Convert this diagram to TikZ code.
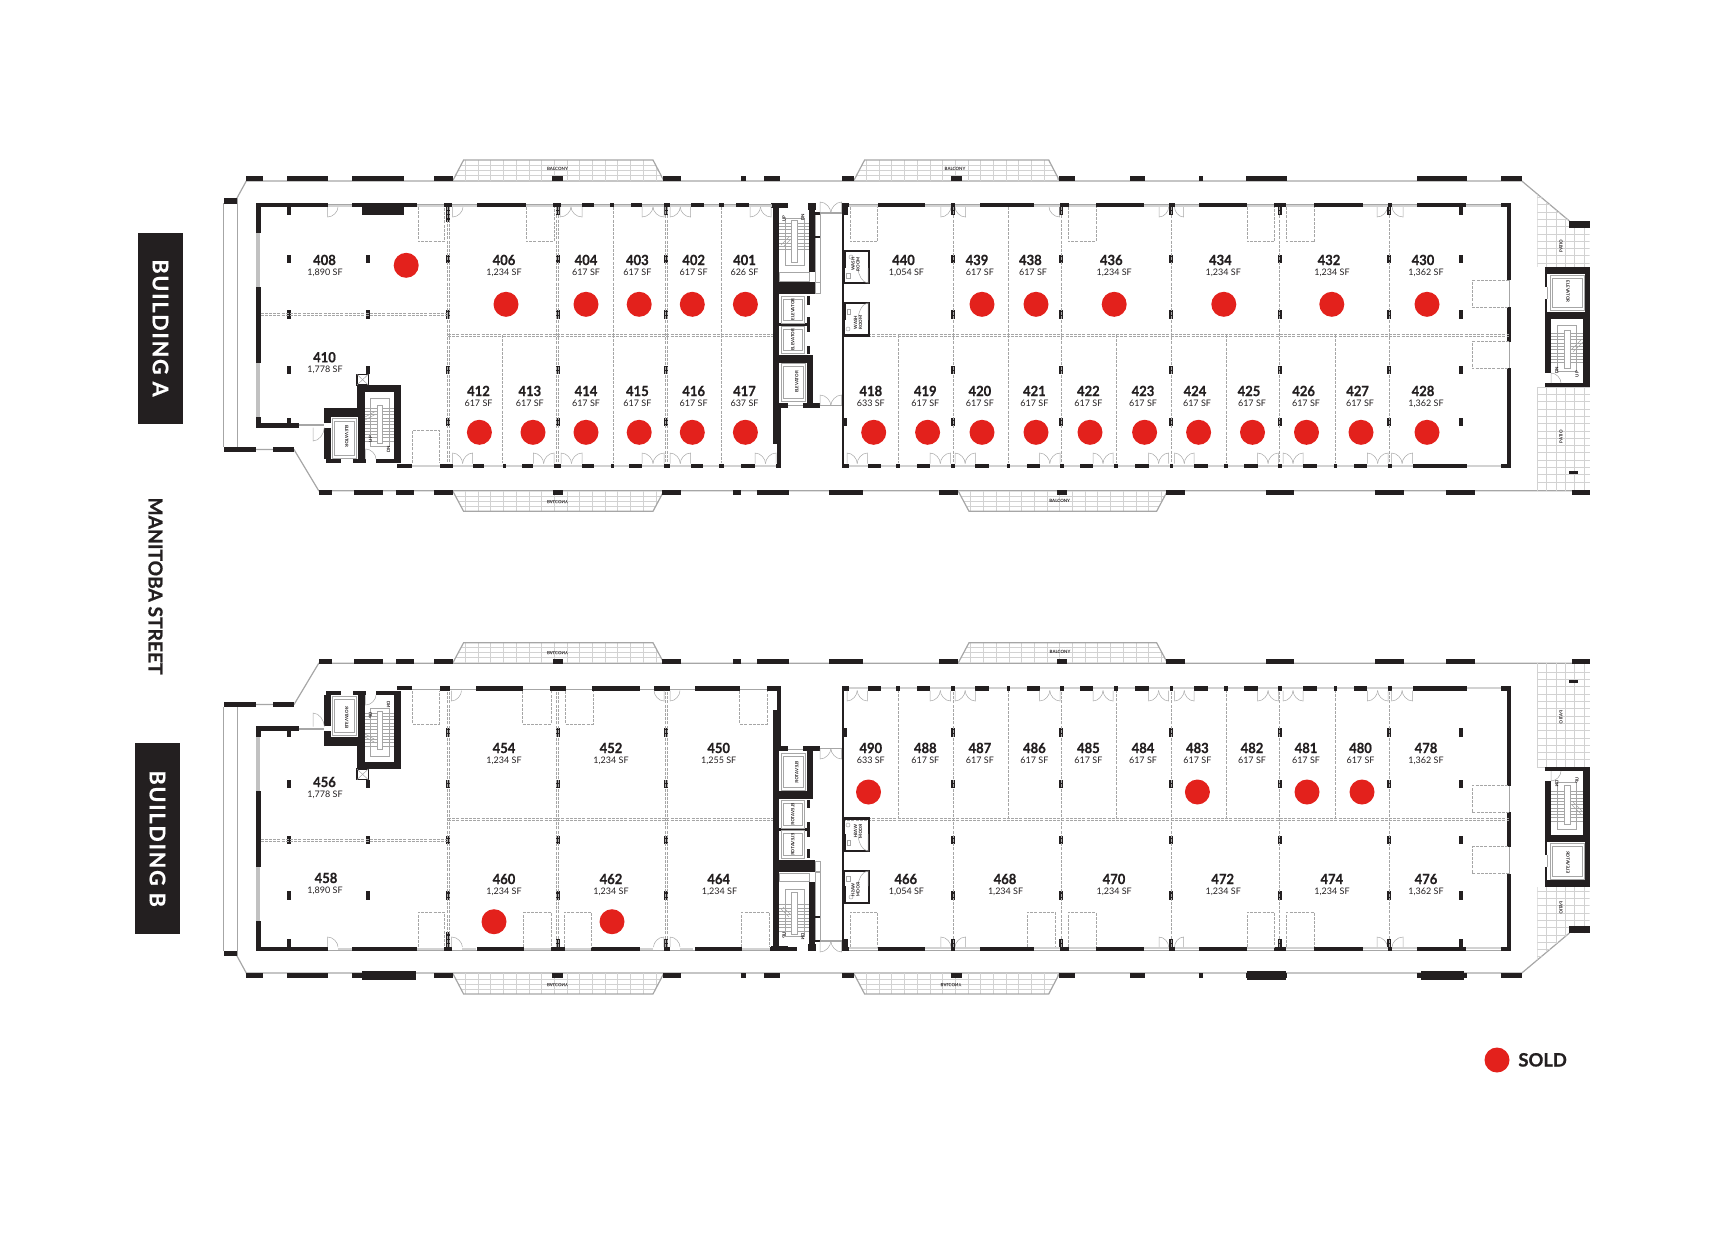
\documentclass[tikz,border=0pt]{standalone}
\usepackage{fontspec}
\setmainfont{Lato}
\newfontfamily\spacedfont[LetterSpace=8, BoldFeatures={FakeBold=0.5}]{Lato}
\newfontfamily\numfont[BoldFeatures={FakeBold=0.6, FakeStretch=0.93}]{Lato}
\newfontfamily\headfont[BoldFeatures={FakeBold=0.8}]{Lato}

\definecolor{wallblack}{HTML}{231F20}
\definecolor{soldred}{HTML}{E3211C}
\definecolor{linegray}{HTML}{A6A6A6}
\definecolor{lightgray}{HTML}{D2D2D2}

\tikzset{
    wallfill/.style={fill=wallblack, draw=none},
    outerline/.style={draw=linegray, line width=0.6pt},
    thinline/.style={draw=linegray, line width=0.25pt},
    glassline/.style={draw=lightgray, line width=1pt},
    sideglass/.style={draw=linegray!70, line width=2.4pt},
    gridline/.style={draw=lightgray, line width=0.25pt},
    partline/.style={draw=linegray, line width=0.3pt, dash pattern=on 1.5pt off 0.6pt},
    doorline/.style={draw=linegray, line width=0.25pt},
    soldmark/.style={circle, fill=soldred, minimum size=12.5pt, inner sep=0pt},
    numlabel/.style={inner sep=0pt, text height=5pt, text depth=0pt, text=wallblack, font=\numfont\fontsize{7}{8}\selectfont\bfseries},
    arealabel/.style={inner sep=0pt, text height=3.3pt, text depth=0pt, text=wallblack, font=\fontsize{4.5}{5}\selectfont},
    tinylabel/.style={inner sep=0pt, align=center, text=wallblack, font=\fontsize{2.2}{2.5}\selectfont\bfseries},
}

\newcommand{\balcony}[4]{
    \begin{scope}
        \clip (#1,#3) -- (#1+11,#4) -- (#2-11,#4) -- (#2,#3) -- cycle;
        \foreach \gx in {0,12.7,...,220}
            {\draw[gridline] (#1+\gx,#3) -- (#1+\gx,#4);}
        \foreach \gf in {0.28,0.52,0.76}
            {\draw[gridline] (#1,{#3+\gf*(#4-#3)}) -- (#2,{#3+\gf*(#4-#3)});}
    \end{scope}
    \draw[outerline] (#1,#3) -- (#1+11,#4) -- (#2-11,#4) -- (#2,#3);
}
\newcommand{\sgldoor}[4]{
    \draw[doorline] (#1,#3) -- (#1,#4) .. controls ({#1+0.55*(#2-#1)},#4) and (#2,{#3+0.45*(#4-#3)}) .. (#2,#3);
}
\newcommand{\dbldoor}[4]{
    \pgfmathsetmacro\dm{(#1+#2)/2}
    \sgldoor{#1}{\dm}{#3}{#4}
    \sgldoor{#2}{\dm}{#3}{#4}
}
\newcommand{\stairs}[6]{
    \pgfmathsetmacro\sm{(#1+#2)/2}
    \pgfmathsetmacro\sb{#5+3.3}
    \draw[thinline] (\sm-9.5,#3) rectangle (\sm+9.5,#4);
    \draw[thinline, fill=white] (\sm-2.7,#5-3) rectangle (\sm+2.7,#4-3);
    \foreach \sy in {#5,\sb,...,#6}
        {\draw[thinline] (#1,\sy) -- (\sm-2.7,\sy);
         \draw[thinline] (\sm+2.7,\sy) -- (#2,\sy);}
}
\newcommand{\carbox}[4]{
    \draw[thinline] (#1,#2) rectangle (#3,#4);
    \draw[thinline] (#1+2,#2+3) rectangle (#3-2,#4-3);
}

% everything both buildings have in common, in the coordinates of building A
\newcommand{\wingcommon}{
    % outer line
    \draw[outerline] (237,198) -- (246.3,181) -- (1521.8,181) -- (1569.4,221);
    \draw[outerline] (255.7,449.5) -- (294,449.5) -- (318.7,490.7) -- (1589.5,490.7);
    \draw[thinline] (223.6,203) -- (223.6,447);
    \draw[thinline] (237,198) -- (237,447);
    \fill[wallfill] (223.6,198) rectangle (237,203.5);
    \fill[wallfill] (223.6,447) rectangle (255.7,452);
    \fill[wallfill] (272.7,447) rectangle (294,452);

    \balcony{452.6}{664}{181}{160}
    \balcony{853.6}{1059.7}{181}{160}
    \balcony{452.6}{664}{490.7}{511.3}
    \balcony{958}{1167.6}{490.7}{511.3}

    % patios
    \begin{scope}
        \clip (1537.3,194) -- (1569.4,221) -- (1589.5,221) -- (1589.5,267) -- (1537.3,267) -- cycle;
        \foreach \gx in {0,9.3,...,55}
            {\draw[gridline] (1537.3+\gx,190) -- (1537.3+\gx,267);}
        \foreach \gy in {0,7.3,...,80}
            {\draw[gridline] (1537.3,190+\gy) -- (1589.5,190+\gy);}
    \end{scope}
    \foreach \gx in {0,9.3,...,55}
        {\draw[gridline] (1537.3+\gx,387) -- (1537.3+\gx,490.7);}
    \foreach \gy in {0,7.3,...,100}
        {\draw[gridline] (1537.3,387+\gy) -- (1589.5,387+\gy);}

    \foreach \a/\b in {246.3/262.9, 287.4/327.6, 352/404, 433.8/452.6, 552/563, 663.3/680.7, 741.4/746.3, 764.2/780, 841.5/853.6, 951/961.5, 1059/1075, 1130/1144.6, 1198.6/1203, 1246/1287, 1417/1467, 1500.5/1521.8}
        {\fill[wallfill] (\a,176) rectangle (\b,181.3);}
    \foreach \a/\b in {318.7/332, 353.5/382.5, 396.3/414, 433.8/453, 553/563, 662.4/681, 733/740.5, 757/788.8, 829/862.8, 938.5/957.5, 1056.8/1067, 1166.4/1185.4, 1266.3/1294.4, 1374.8/1403.5, 1446/1475.3, 1571.7/1589.5}
        {\fill[wallfill] (\a,490) rectangle (\b,495.3);}
    \fill[wallfill] (1569.4,221) rectangle (1589.5,228);
    \fill[wallfill] (1569.4,471) rectangle (1577.5,474.3);

    % left and right walls
    \draw[sideglass] (258,233) -- (258,286.7);
    \draw[sideglass] (258,363) -- (258,416.7);
    \foreach \a/\b in {203/233, 286.7/363, 416.7/427}
        {\fill[wallfill] (255.7,\a) rectangle (260.6,\b);}
    \fill[wallfill] (255.7,423.3) rectangle (298.6,427.7);
    \draw[thinline] (1509,280) -- (1509,308);
    \draw[thinline] (1509,341) -- (1509,368);
    \foreach \a/\b in {203.3/280, 307.3/341.7, 368.3/468}
        {\fill[wallfill] (1506.7,\a) rectangle (1510.7,\b);}

    % walls along the long sides, right of the core
    \draw[thinline] (842,204) -- (1511,204);
    \draw[glassline] (842,206) -- (1511,206);
    \foreach \a/\b in {842/849, 877.7/925.3, 950.6/955, 979.9/1033.8, 1059.7/1068.8, 1095.8/1143.5, 1168.7/1174.5, 1199/1246.8, 1273.8/1286.4, 1314/1362.8, 1387.5/1392, 1417.3/1466, 1500.5/1511}
        {\fill[wallfill] (\a,203) rectangle (\b,207);}
    \draw[glassline] (842,466) -- (1511,466);
    \foreach \a/\b in {842/849, 868/880.5, 896/900, 916.7/930, 951/955, 975.3/988.5, 1006.8/1010, 1027/1039.6, 1060/1064, 1080.3/1093, 1114/1117.6, 1135/1148.6, 1170/1173.3, 1194/1207.8, 1223.8/1227.9, 1244/1257.7, 1278.4/1282.4, 1302.5/1316.8, 1333.5/1337, 1353.6/1366.8, 1388/1391.5, 1412.7/1467, 1500.5/1511}
        {\fill[wallfill] (\a,463.5) rectangle (\b,468);}
    \foreach \a/\b in {847/867.4, 930/950.6, 955/975.3, 1039.6/1060, 1093/1113, 1148.6/1168.7, 1174.5/1194, 1257.7/1278.4, 1283/1303, 1367.3/1388, 1391.5/1412.7}
        {\dbldoor{\a}{\b}{463.5}{453}}
    \foreach \a/\b in {940.8/951, 965.5/955, 1159/1168.7, 1183.6/1174.5, 1377/1387.5, 1403/1392}
        {\sgldoor{\a}{\b}{207}{217}}

    % columns
    \foreach \x in {288.7,367.8,448,557.5,666.4,953,1061.4,1171,1279.5,1389,1461}
        \foreach \y in {258.7,314.3,370}
            {\fill[wallfill] (\x-2,\y-4.2) rectangle (\x+2,\y+4.2);}
    \foreach \x in {288.7,448,557.5,666.4,845,953,1061.4,1171,1279.5,1389,1461}
        {\fill[wallfill] (\x-2,417.5) rectangle (\x+2,426);}
    \foreach \x in {288.7,557.5,666.4,953,1061.4,1171,1279.5,1389,1461}
        {\fill[wallfill] (\x-2,207) rectangle (\x+2,215);}
    \fill[wallfill] (446,207) rectangle (450,222);

    % partitions
    \foreach \d in {-1,1}
    {
        \draw[partline] (260.6,314+\d) -- (448,314+\d);
        \draw[partline] (448,335+\d) -- (772.7,335+\d);
        \draw[partline] (843,335+\d) -- (1509,335+\d);
        \foreach \x in {448,557.5,666.4}
            {\draw[partline] (\x+\d,207) -- (\x+\d,463);}
    }
    \foreach \x in {953,1061.4,1171,1279.5,1389}
        {\draw[partline] (\x,207) -- (\x,463);}
    \foreach \x in {898.3,1008,1116,1226,1335}
        {\draw[partline] (\x,335) -- (\x,463);}
    \foreach \a/\b in {850/877.7, 1068/1095.8, 1246.8/1274.4, 1286.4/1314.5, 417.8/444.6}
        {\draw[partline] (\a,207) -- (\a,241.7) -- (\b,241.7) -- (\b,207);}
    \draw[partline] (412.4,463) -- (412.4,430) -- (439.6,430) -- (439.6,463);
    \draw[partline] (1509,280.3) -- (1472.4,280.3) -- (1472.4,307.3) -- (1509,307.3);
    \draw[partline] (1509,341.3) -- (1472.4,341.3) -- (1472.4,368.7) -- (1509,368.7);

    % stair and elevator beside the end units
    \fill[wallfill] (356.7,385) rectangle (400.7,392.3);
    \fill[wallfill] (356.7,385) rectangle (364.5,416.7);
    \fill[wallfill] (394,385) rectangle (400.7,463);
    \fill[wallfill] (324.3,408.3) rectangle (364.5,416.7);
    \fill[wallfill] (324.3,408.3) rectangle (331,423);
    \fill[wallfill] (324.3,428) rectangle (331,459);
    \fill[wallfill] (357.7,416.7) rectangle (365,459);
    \fill[wallfill] (325.7,459) rectangle (341,462.7);
    \fill[wallfill] (353.3,459) rectangle (365.7,462.7);
    \fill[wallfill] (376,459) rectangle (400.7,462.7);
    \fill[wallfill] (396.7,464) rectangle (412,468);
    \draw[wallblack, line width=0.6pt] (356.9,374.3) rectangle (368.3,385);
    \draw[thinline] (356.9,374.3) -- (368.3,385);
    \draw[thinline] (356.9,385) -- (368.3,374.3);
    \draw[outerline] (298.6,425) -- (324.3,425);
    \sgldoor{313}{324.3}{427.5}{441}
    \sgldoor{365.7}{376}{459}{449}
    \carbox{332.3}{418.3}{356.3}{458}
    \node[tinylabel, rotate=-90, transform shape] (carL) at (346.7,436) {ELEVATOR};
    \stairs{365}{394}{398}{446}{408}{442}
    \draw[thinline] (365,417) -- (376,411);
    \draw[thinline] (365,420) -- (376,414);
    \node[tinylabel, rotate=90, transform shape] (upL) at (370.5,439) {UP};
    \node[tinylabel, rotate=90, transform shape] (dnL) at (388.5,449) {DN};

    % core
    \fill[wallfill] (772.7,203) rectangle (779.3,407);
    \fill[wallfill] (772.7,407) rectangle (780.7,444);
    \fill[wallfill] (776.7,444) rectangle (780.7,468);
    \fill[wallfill] (771,203.3) rectangle (788.3,207.7);
    \fill[wallfill] (808,203.3) rectangle (816,210);
    \fill[wallfill] (809.3,210) rectangle (815,271.7);
    \fill[wallfill] (772.7,282.3) rectangle (815,294.3);
    \fill[wallfill] (806.7,296) rectangle (810,305);
    \fill[wallfill] (806.7,317.3) rectangle (810,331.7);
    \fill[wallfill] (806.7,345.7) rectangle (810,354);
    \fill[wallfill] (779.3,323.3) rectangle (806.7,325.7);
    \fill[wallfill] (772.7,355) rectangle (813.3,362.7);
    \fill[wallfill] (807.3,362.7) rectangle (813.3,403);
    \fill[wallfill] (772.7,403) rectangle (787.7,408);
    \fill[wallfill] (803.3,403) rectangle (820,408);
    \draw[thinline] (787.7,405) -- (803.3,405);
    \draw[thinline] (779.3,272.3) rectangle (809.3,281);
    \draw[thinline] (815,213) rectangle (820,282);
    \draw[thinline] (815,282.5) rectangle (820,293);
    \fill[wallfill] (815,212) rectangle (820,214.5);
    \fill[wallfill] (815,236) rectangle (820,238);
    \stairs{779.3}{809.3}{218}{265}{223}{252}
    \draw[thinline] (781,245) -- (789,237);
    \draw[thinline] (783,247) -- (791,239);
    \node[tinylabel, rotate=90, transform shape] (upC) at (784,218.3) {UP};
    \node[tinylabel, rotate=90, transform shape] (dnC) at (802.7,217.3) {DN};
    \carbox{781.7}{296}{804}{323.3}
    \carbox{781.7}{326}{804}{353.3}
    \carbox{781.7}{363.7}{805.7}{401}
    \node[tinylabel, rotate=90, transform shape] (carC1) at (792.7,309.3) {ELEVATOR};
    \node[tinylabel, rotate=90, transform shape] (carC2) at (792.7,339.7) {ELEVATOR};
    \node[tinylabel, rotate=90, transform shape] (carC3) at (796.7,382) {ELEVATOR};
    \dbldoor{820}{841.7}{213}{202}
    \dbldoor{820}{841.7}{405.5}{395}
    \draw[outerline] (820,213) -- (841.7,213);
    \draw[outerline] (820,405.5) -- (841.7,405.5);
    \fill[wallfill] (842,203) rectangle (843.6,467);
    \fill[wallfill] (842,203) rectangle (848,215);

    % wash rooms
    \draw[wallblack, line width=1.3pt] (843.6,251) rectangle (869,283);
    \draw[wallblack, line width=1.3pt] (843.6,303) rectangle (869,335.5);
    \fill[wallfill] (842.7,251) rectangle (846,268);
    \fill[wallfill] (842.7,303) rectangle (846,320);
    \sgldoor{868}{858}{268}{283}
    \sgldoor{868}{858}{320}{303}
    \draw[thinline] (851,257) circle (2);
    \draw[thinline] (846.7,273) rectangle (850,278);
    \draw[thinline] (848,329) circle (2);
    \draw[thinline] (847,309) rectangle (850.5,314);
    \node[tinylabel, rotate=90, transform shape] (washA) at (855.5,264) {WASH\\ROOM};
    \node[tinylabel, rotate=90, transform shape] (washB) at (858,322.7) {WASH\\ROOM};

    % tower at the east end
    \fill[wallfill] (1545,267.3) rectangle (1590,274);
    \fill[wallfill] (1585,274) rectangle (1590,311.7);
    \fill[wallfill] (1545,274) rectangle (1547.4,286.7);
    \fill[wallfill] (1545,299.3) rectangle (1547.4,311.7);
    \fill[wallfill] (1545,311.7) rectangle (1590,319.3);
    \fill[wallfill] (1545,319.3) rectangle (1551,372.7);
    \fill[wallfill] (1583.3,319.3) rectangle (1590,384);
    \fill[wallfill] (1545,383) rectangle (1590,387);
    \draw[outerline] (1547.8,286.7) -- (1547.8,299.3);
    \carbox{1550}{275}{1584.5}{310.7}
    \stairs{1551}{1583.3}{325}{371.7}{333}{363}
    \draw[thinline] (1571,350) -- (1581,340);
    \draw[thinline] (1573,352) -- (1583,342);
    \sgldoor{1551}{1561}{383}{373}
    \node[tinylabel, rotate=-90, transform shape] (carE) at (1568,291.7) {ELEVATOR};
    \node[tinylabel, rotate=90, transform shape] (dnE) at (1556.7,370) {DN};
    \node[tinylabel, rotate=90, transform shape] (upE) at (1577,374) {UP};
    \node[tinylabel, rotate=90, transform shape] (patioN) at (1561,246) {PATIO};
    \node[tinylabel, rotate=90, transform shape] (patioS) at (1561,436.7) {PATIO};
}

\begin{document}
\begin{tikzpicture}[x=0.5pt, y=-0.5pt]
    \useasboundingbox (0,0) rectangle (1725,1233);

    % building A
    \wingcommon
    \draw[thinline] (260,204) -- (772,204);
    \draw[glassline] (260,206) -- (772,206);
    \foreach \a/\b in {255.7/327.6, 352/417.3, 443.7/451.7, 477/526.3, 553/561, 582/594, 610/614, 631/642, 663.8/670, 690.5/703.5, 719/723.6, 736/749}
        {\fill[wallfill] (\a,203) rectangle (\b,207);}
    \fill[wallfill] (362.4,207) rectangle (404,214.7);
    \draw[glassline] (412,466) -- (780,466);
    \foreach \a/\b in {439.6/452.6, 472.7/484.4, 503/506, 521.6/533.4, 554/561, 582/594, 611/614, 629/642, 663.8/670, 690.5/703, 719/723.6, 740.5/755, 776/780.7}
        {\fill[wallfill] (\a,463.5) rectangle (\b,468);}
    \foreach \a/\b in {560/582, 642/664, 670/690.5, 750/771}
        {\dbldoor{\a}{\b}{207}{217}}
    \foreach \a/\b in {452.6/472.7, 533.4/554, 561/582, 642/664, 670/690.5, 755/776}
        {\dbldoor{\a}{\b}{463.5}{453}}
    \sgldoor{327.6}{338}{207}{217}
    \sgldoor{452.6}{463}{207}{217}
    \sgldoor{1059.7}{1049}{207}{217}
    \foreach \x in {502,613.3,721.3}
        {\draw[partline] (\x,335) -- (\x,463);}
    \foreach \x in {613.3,721.3,1008}
        {\draw[partline] (\x,207) -- (\x,335);}
    \draw[partline] (526,207) -- (526,241.7) -- (554,241.7) -- (554,207);

    % building B
    \begin{scope}[shift={(0,1154)}, yscale=-1]
        \wingcommon
        \draw[thinline] (260,204) -- (772,204);
        \foreach \a/\b in {338/352, 417.3/444, 462.4/476, 524/551, 564.6/591.4, 639.6/653.4, 680/693, 742/769.5}
            {\draw[glassline] (\a,205.5) -- (\b,205.5);}
        \foreach \a/\b in {255.7/327.6, 352/417.3, 444/451.7, 477/524, 551/564.6, 591.4/639.6, 663.8/670, 694.6/742, 769.5/797}
            {\fill[wallfill] (\a,203) rectangle (\b,207);}
        \draw[thinline] (412,465) -- (780,465);
        \foreach \a/\b in {439.6/450.4, 475.8/523, 550/565.5, 592.3/639.6, 654/670, 694.6/739.6, 767.3/780.7}
            {\fill[wallfill] (\a,463.5) rectangle (\b,468);}
        \sgldoor{327.6}{338}{207}{217}
        \sgldoor{451.7}{462.4}{207}{217}
        \sgldoor{663.8}{653.5}{207}{217}
        \sgldoor{670}{680}{207}{217}
        \sgldoor{451.3}{461.5}{463.5}{453}
        \sgldoor{664}{654}{463.5}{453}
        \sgldoor{670}{680}{463.5}{453}
        \foreach \a/\b in {523.6/550.8, 564/591.4, 741.4/769.5, 1027/1055.6}
            {\draw[partline] (\a,207) -- (\a,241.7) -- (\b,241.7) -- (\b,207);}
        \foreach \a/\b in {522/550.8, 565/592.8, 739.6/767.3}
            {\draw[partline] (\a,463) -- (\a,430) -- (\b,430) -- (\b,463);}
    \end{scope}
    \foreach \a/\b in {361.5/415.5, 1246.8/1286.4, 1420.8/1463.8}
        {\fill[wallfill] (\a,970.7) rectangle (\b,980);}

    % balcony texts
    \foreach \x/\y [count=\i] in {557.5/169, 955/169, 1059.7/501, 1060/652}
        {\node[tinylabel] (balconyN\i) at (\x,\y) {BALCONY};}
    \foreach \x/\y [count=\i] in {557.5/501.7, 557.5/652.7, 557.5/984.7, 951/985}
        {\node[tinylabel, yscale=-1] (balconyF\i) at (\x,\y) {BALCONY};}

    % units: number / area / x of number / x of area / y
    \foreach \n/\s/\x/\xa/\y in {
        408/{1,890 SF}/324.5/325/260, 406/{1,234 SF}/504/504/260, 404/{617 SF}/586/586/260, 403/{617 SF}/637.4/637.4/260,
        402/{617 SF}/693.7/693.7/260, 401/{626 SF}/744.5/744.5/260, 410/{1,778 SF}/324.5/325/357.3,
        412/{617 SF}/478.5/478.5/391, 413/{617 SF}/529.8/529.8/391, 414/{617 SF}/586/586/391, 415/{617 SF}/637.4/637.4/391,
        416/{617 SF}/693.7/693.7/391, 417/{637 SF}/744.5/744.5/391,
        440/{1,054 SF}/903.5/906.4/260, 439/{617 SF}/977/979.9/260, 438/{617 SF}/1030.4/1033/260, 436/{1,234 SF}/1111.3/1114.2/260,
        434/{1,234 SF}/1220.4/1223.3/260, 432/{1,234 SF}/1329/1332/260, 430/{1,362 SF}/1423/1426/260,
        418/{633 SF}/870.8/870.8/391, 419/{617 SF}/925.3/925.3/391, 420/{617 SF}/979.9/979.9/391, 421/{617 SF}/1034.4/1034.4/391,
        422/{617 SF}/1088.4/1088.4/391, 423/{617 SF}/1143/1143/391, 424/{617 SF}/1195/1197/391, 425/{617 SF}/1249/1252/391,
        426/{617 SF}/1303.6/1306/391, 427/{617 SF}/1357.6/1360/391, 428/{1,362 SF}/1423/1426/391,
        454/{1,234 SF}/504/504/748, 452/{1,234 SF}/611/611/748, 450/{1,255 SF}/718.7/718.7/748, 456/{1,778 SF}/324.5/325/782,
        458/{1,890 SF}/326/325/878, 460/{1,234 SF}/504/504/879, 462/{1,234 SF}/611/611/879, 464/{1,234 SF}/718.7/719.5/879,
        490/{633 SF}/870.8/870.8/748, 488/{617 SF}/925.3/925.3/748, 487/{617 SF}/979.9/979.9/748, 486/{617 SF}/1034.4/1034.4/748,
        485/{617 SF}/1088.4/1088.4/748, 484/{617 SF}/1143/1143/748, 483/{617 SF}/1197.4/1197.4/748, 482/{617 SF}/1252/1252/748,
        481/{617 SF}/1306/1306/748, 480/{617 SF}/1360.5/1360.5/748, 478/{1,362 SF}/1426/1426/748,
        466/{1,054 SF}/905.8/906.4/879, 468/{1,234 SF}/1005/1005.6/879, 470/{1,234 SF}/1114/1114.2/879, 472/{1,234 SF}/1222.7/1223.3/879,
        474/{1,234 SF}/1331.8/1332/879, 476/{1,362 SF}/1426/1426/879}
    {
        \node[numlabel] (unit\n) at (\x,\y) {\n};
        \node[arealabel] (area\n) at (\xa,\y+12) {\s};
    }

    % sold marks
    \foreach \n/\x/\y in {408/406.2/265.3, 406/506/304.3, 404/586/304.3, 403/639.2/304.3, 402/692.3/304.3, 401/745.4/304.3,
        412/479.4/432.3, 413/533/432.3, 414/586/432.3, 415/639.2/432.3, 416/692.3/432.3, 417/745.4/432.3,
        439/982/304.3, 438/1036/304.3, 436/1114.2/304.3, 434/1223.8/304.3, 432/1331.8/304.3, 430/1427/304.3,
        418/873.7/432.3, 419/927.6/432.3, 420/982/432.3, 421/1036/432.3, 422/1090/432.3, 423/1144.6/432.3,
        424/1198.6/432.3, 425/1252.5/432.3, 426/1306.5/432.3, 427/1361/432.3, 428/1427/432.3,
        460/494/921.7, 462/612/921.7, 490/868.5/792, 483/1197.4/792, 481/1307/792, 480/1362/792}
        {\node[soldmark] (sold\n) at (\x,\y) {};}

    % building names
    \node (boxA) at (160.5,328) [fill=wallblack, minimum width=22.5pt, minimum height=95.5pt, inner sep=0pt] {};
    \node (boxB) at (157.5,838.7) [fill=wallblack, minimum width=22.5pt, minimum height=95.5pt, inner sep=0pt] {};
    \node (nameA) at (boxA) [rotate=-90, text=white, inner sep=0pt, font=\spacedfont\fontsize{10.8}{12}\selectfont\bfseries] {BUILDING A};
    \node (nameB) at (boxB) [rotate=-90, text=white, inner sep=0pt, font=\spacedfont\fontsize{10.8}{12}\selectfont\bfseries] {BUILDING B};
    \node (street) at (155.5,586) [rotate=-90, inner sep=0pt, text=wallblack, font=\headfont\fontsize{9.6}{11}\selectfont\bfseries] {MANITOBA STREET};

    % legend
    \node[soldmark] (legendmark) at (1497,1060) {};
    \node (legendtext) at (1518,1060) [anchor=west, inner sep=0pt, text height=6.5pt, text depth=0pt, text=wallblack, font=\headfont\fontsize{9.2}{11}\selectfont\bfseries] {SOLD};
\end{tikzpicture}
\end{document}
